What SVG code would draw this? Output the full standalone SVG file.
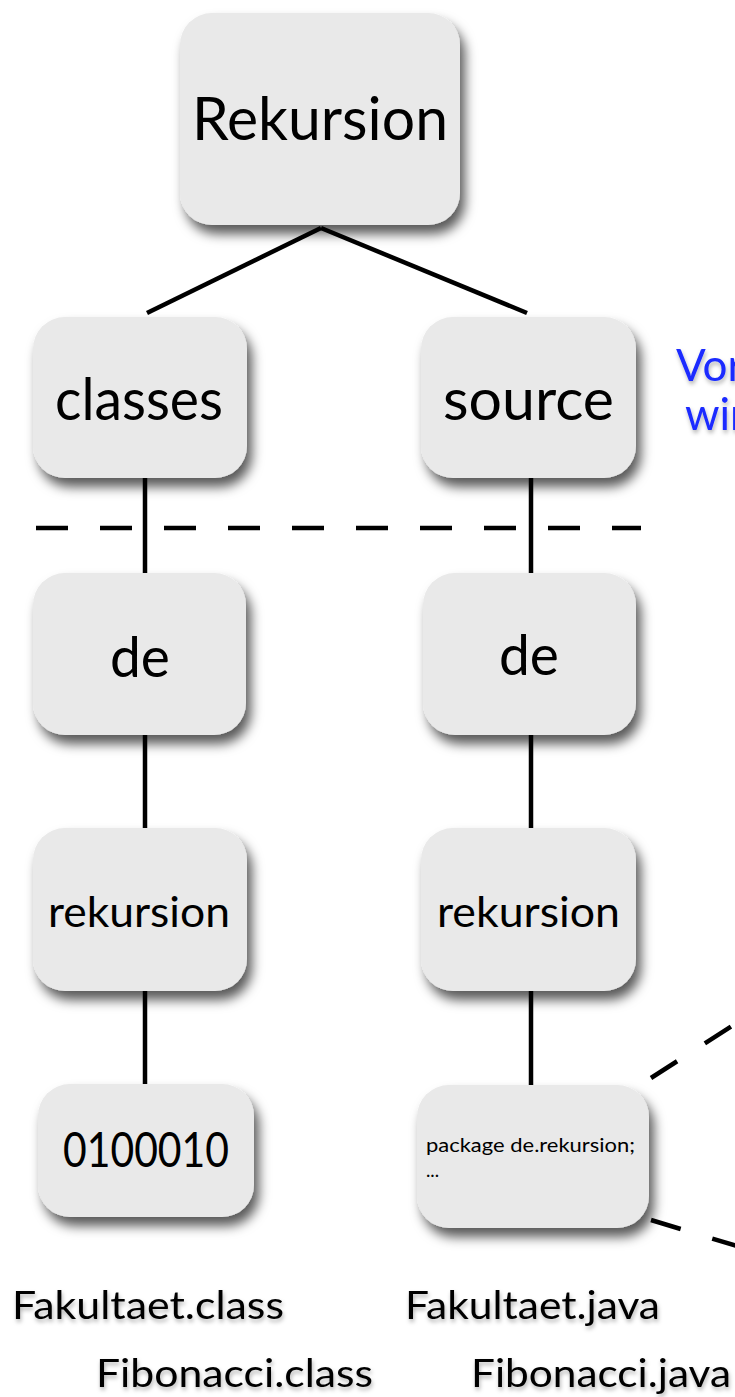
<svg xmlns="http://www.w3.org/2000/svg" width="735" height="1397" viewBox="0 0 735 1397">
<defs>
<filter id="sh" x="-20%" y="-20%" width="150%" height="160%">
<feDropShadow dx="5" dy="9" stdDeviation="6" flood-color="#000" flood-opacity="0.65"/>
</filter>
<filter id="tsh" x="-10%" y="-30%" width="120%" height="180%">
<feDropShadow dx="1" dy="3" stdDeviation="2" flood-color="#000" flood-opacity="0.3"/>
</filter>
<style>
.box{fill:#e9e9e9;filter:url(#sh)}
.t{font-family:Lato,"Open Sans",sans-serif;fill:#000;text-anchor:middle}
.lbl{font-family:Lato,"Open Sans",sans-serif;fill:#000;font-size:38px;filter:url(#tsh)}
.blue{font-family:Lato,"Open Sans",sans-serif;fill:#1a2cff;font-size:44px;filter:url(#tsh)}
.ln{stroke:#000;stroke-width:4.5;fill:none}
.dash{stroke:#000;stroke-width:4.5;fill:none;stroke-dasharray:32 32}
</style>
</defs>
<rect width="735" height="1397" fill="#fff"/>
<g id="connectors">
<line class="ln" x1="321" y1="228" x2="147" y2="313"/>
<line class="ln" x1="321" y1="228" x2="527" y2="313"/>
<line class="ln" x1="145" y1="478" x2="145" y2="573"/>
<line class="ln" x1="145" y1="735" x2="145" y2="828"/>
<line class="ln" x1="145" y1="991" x2="145" y2="1084"/>
<line class="ln" x1="531" y1="478" x2="531" y2="573"/>
<line class="ln" x1="531" y1="735" x2="531" y2="828"/>
<line class="ln" x1="531" y1="991" x2="531" y2="1085"/>
<line class="dash" x1="36" y1="528" x2="641" y2="528"/>
<line class="ln" x1="651" y1="1078" x2="760" y2="1008" style="stroke-dasharray:31 33"/>
<line class="ln" x1="651" y1="1220" x2="760" y2="1253" style="stroke-dasharray:31 33"/>
</g>
<g id="n-rekursion"><rect class="box" x="180" y="13" width="280" height="212" rx="32"/><text class="t" x="320" y="140" font-size="60" textLength="256" lengthAdjust="spacingAndGlyphs">Rekursion</text></g>
<g id="n-classes"><rect class="box" x="33" y="317" width="214" height="161" rx="32"/><text class="t" x="139" y="420" font-size="58" textLength="168" lengthAdjust="spacingAndGlyphs">classes</text></g>
<g id="n-source"><rect class="box" x="421" y="317" width="215" height="161" rx="32"/><text class="t" x="528.5" y="420" font-size="58" textLength="171" lengthAdjust="spacingAndGlyphs">source</text></g>
<g id="n-de1"><rect class="box" x="33" y="573" width="213" height="162" rx="32"/><text class="t" x="140" y="677" font-size="57" textLength="60" lengthAdjust="spacingAndGlyphs">de</text></g>
<g id="n-de2"><rect class="box" x="423" y="573" width="213" height="162" rx="32"/><text class="t" x="529" y="675" font-size="57" textLength="60" lengthAdjust="spacingAndGlyphs">de</text></g>
<g id="n-rek1"><rect class="box" x="33" y="828" width="214" height="163" rx="32"/><text class="t" x="139" y="927" font-size="42" textLength="182" lengthAdjust="spacingAndGlyphs">rekursion</text></g>
<g id="n-rek2"><rect class="box" x="421" y="828" width="215" height="163" rx="32"/><text class="t" x="528.5" y="927" font-size="42" textLength="183" lengthAdjust="spacingAndGlyphs">rekursion</text></g>
<g id="n-bin"><rect class="box" x="38" y="1084" width="216" height="133" rx="32"/><text class="t" x="146" y="1167" font-size="48" textLength="166" lengthAdjust="spacingAndGlyphs">0100010</text></g>
<g id="n-src"><rect class="box" x="417" y="1085" width="232" height="143" rx="32"/><text x="426" y="1152" font-family="Lato,'Open Sans',sans-serif" font-size="18.5" textLength="209" lengthAdjust="spacingAndGlyphs">package de.rekursion;</text><text x="426" y="1177" font-family="Lato,'Open Sans',sans-serif" font-size="18.5">...</text></g>
<g id="labels">
<text class="blue" x="676" y="381">Vor</text>
<text class="blue" x="685" y="430">wir</text>
<text class="lbl" x="12" y="1319" textLength="272" lengthAdjust="spacingAndGlyphs">Fakultaet.class</text>
<text class="lbl" x="405" y="1319" textLength="255" lengthAdjust="spacingAndGlyphs">Fakultaet.java</text>
<text class="lbl" x="96" y="1387" textLength="277" lengthAdjust="spacingAndGlyphs">Fibonacci.class</text>
<text class="lbl" x="471" y="1387" textLength="260" lengthAdjust="spacingAndGlyphs">Fibonacci.java</text>
</g>
</svg>
